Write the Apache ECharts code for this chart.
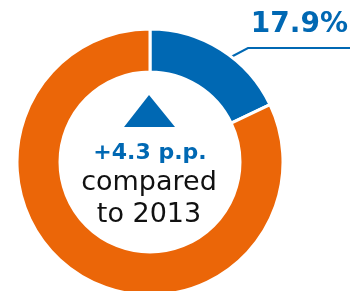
<!DOCTYPE html>
<html>
<head>
<meta charset="utf-8">
<script src="https://cdn.jsdelivr.net/npm/echarts@6/dist/echarts.min.js"></script>
<style>
  html, body { margin: 0; padding: 0; background: #fff; }
  #chart { width: 354px; height: 291px; }
</style>
</head>
<body>
<div id="chart"></div>
<script>
const categories = ['Share', 'Rest']
const values = [17.9, 82.1]
const colors = ['#0068b3', '#eb6608']
const changeText = '+4.3 p.p.'
const compareLines = ['compared', 'to 2013']

const chart = echarts.init(document.getElementById('chart'))
const font = 'DejaVu Sans'

chart.setOption({
  animation: false,
  series: [{
    type: 'pie',
    radius: [90, 133],
    center: [150, 162],
    startAngle: 90,
    clockwise: true,
    silent: true,
    itemStyle: {
      borderColor: '#fff',
      borderWidth: 3
    },
    data: categories.map((name, i) => ({
      name: name,
      value: values[i],
      itemStyle: { color: colors[i] },
      label: { show: i === 0 },
      labelLine: { show: i === 0 }
    })),
    label: {
      formatter: p => p.value + '%',
      color: '#0068b3',
      fontFamily: font,
      fontWeight: 'bold',
      fontSize: 28,
      overflow: 'none',
      width: 200
    },
    labelLine: {
      lineStyle: { color: '#0068b3', width: 2 }
    },
    labelLayout: function (params) {
      if (params.dataIndex !== 0) return {}
      return {
        x: 348,
        y: 25,
        align: 'right',
        verticalAlign: 'middle',
        labelLinePoints: [[231, 57], [248, 48], [350, 48]]
      }
    }
  }],
  graphic: [
    {
      type: 'polygon',
      shape: { points: [[149, 95], [124, 127], [175, 127]] },
      style: { fill: '#0068b3' }
    },
    {
      type: 'text',
      x: 150, y: 153,
      style: {
        text: changeText, fill: '#0068b3', font: 'bold 22px ' + font,
        align: 'center', verticalAlign: 'middle'
      }
    },
    {
      type: 'text',
      x: 149, y: 183,
      style: {
        text: compareLines[0], fill: '#111', font: '27px ' + font,
        align: 'center', verticalAlign: 'middle'
      }
    },
    {
      type: 'text',
      x: 149, y: 215,
      style: {
        text: compareLines[1], fill: '#111', font: '27px ' + font,
        align: 'center', verticalAlign: 'middle'
      }
    }
  ]
})
</script>
</body>
</html>
